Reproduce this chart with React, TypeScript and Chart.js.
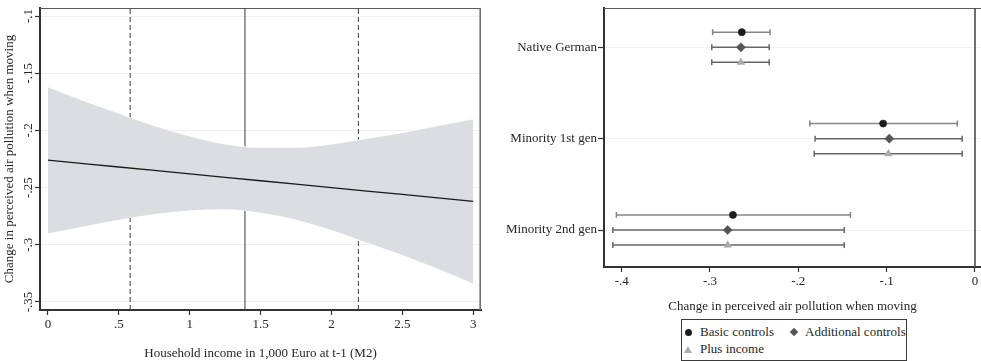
import React, { useEffect, useRef } from "react";
import { Chart, registerables } from "chart.js";

Chart.register(...registerables);

const FONT_FAMILY = "'Liberation Serif', 'Times New Roman', serif";
const FONT_SIZE = 13;
const TEXT_COLOR = "#262626";

// ---------- Left panel data ----------
const incomeX = [0, 0.25, 0.5, 0.75, 1, 1.25, 1.5, 1.75, 2, 2.25, 2.5, 2.75, 3];
const predicted = [-0.226, -0.229, -0.232, -0.235, -0.238, -0.241, -0.244, -0.247, -0.25, -0.253, -0.256, -0.259, -0.262];
const ciUpper = [-0.162, -0.174, -0.185, -0.196, -0.205, -0.212, -0.215, -0.215, -0.212, -0.207, -0.202, -0.196, -0.19];
const ciLower = [-0.29, -0.284, -0.278, -0.273, -0.27, -0.269, -0.272, -0.278, -0.287, -0.298, -0.309, -0.321, -0.334];
const incomeRefLines = [0.58, 1.39, 2.19];
const incomeRefDashed = [true, false, true];
const leftXTicks = [0, 0.5, 1, 1.5, 2, 2.5, 3];
const leftXTickLabels = ["0", ".5", "1", "1.5", "2", "2.5", "3"];
const leftYTicks = [-0.1, -0.15, -0.2, -0.25, -0.3, -0.35];
const leftYTickLabels = ["-.1", "-.15", "-.2", "-.25", "-.3", "-.35"];
const leftXTitle = "Household income in 1,000 Euro at t-1 (M2)";
const leftYTitle = "Change in perceived air pollution when moving";
const LEFT_X_MIN = -0.056;
const LEFT_X_MAX = 3.055;
const LEFT_Y_MIN = -0.357;
const LEFT_Y_MAX = -0.093;

// ---------- Right panel data ----------
const groups = ["Native German", "Minority 1st gen", "Minority 2nd gen"];
const modelNames = ["Basic controls", "Additional controls", "Plus income"];
const basicEst = [-0.264, -0.104, -0.274];
const basicLo = [-0.297, -0.187, -0.406];
const basicHi = [-0.232, -0.02, -0.141];
const addEst = [-0.265, -0.097, -0.28];
const addLo = [-0.298, -0.181, -0.41];
const addHi = [-0.233, -0.0145, -0.148];
const incEst = [-0.265, -0.098, -0.28];
const incLo = [-0.298, -0.182, -0.41];
const incHi = [-0.233, -0.0145, -0.148];
const rightXTicks = [-0.4, -0.3, -0.2, -0.1, 0];
const rightXTickLabels = ["-.4", "-.3", "-.2", "-.1", "0"];
const rightXTitle = "Change in perceived air pollution when moving";
const zeroLineX = [0];
const RIGHT_X_MIN = -0.42;
const RIGHT_X_MAX = 0.0068;
const RIGHT_Y_MIN = 0.57;
const RIGHT_Y_MAX = 3.405;

// styles
const modelOffsets = [-0.165, 0, 0.165];
const modelColors = ["#1c1c1c", "#555555", "#ababab"];
const barColors = ["#858585", "#666666", "#666666"];
const modelStyles = ["circle", "rectRot", "triangle"];
const modelRadius = [3.6, 4.6, 4.4];

const font = { family: FONT_FAMILY, size: FONT_SIZE };

function framePlugin(drawRight: boolean) {
  return {
    id: "frame" + (drawRight ? "R" : "N"),
    beforeDatasetsDraw(chart: any) {
      const { ctx, chartArea } = chart;
      const { left, right, top } = chartArea;
      ctx.save();
      ctx.strokeStyle = "#5a5a5a";
      ctx.lineWidth = 1.2;
      ctx.beginPath();
      ctx.moveTo(left, top + 0.5);
      ctx.lineTo(right, top + 0.5);
      ctx.stroke();
      if (drawRight) {
        ctx.strokeStyle = "#707070";
        ctx.lineWidth = 1.6;
        ctx.beginPath();
        ctx.moveTo(right - 0.8, top);
        ctx.lineTo(right - 0.8, chartArea.bottom);
        ctx.stroke();
      }
      ctx.restore();
    },
  };
}

function LeftPanel() {
  const ref = useRef<HTMLCanvasElement>(null);
  useEffect(() => {
    const refDatasets = incomeRefLines.map((m, i) => ({
      type: "line" as const,
      data: [
        { x: m, y: LEFT_Y_MIN },
        { x: m, y: LEFT_Y_MAX },
      ],
      borderColor: "#3a3a3a",
      borderWidth: 1,
      borderDash: incomeRefDashed[i] ? [5, 3] : [],
      pointRadius: 0,
      fill: false,
      order: 10,
    }));
    const chart = new Chart(ref.current!, {
      type: "line",
      data: {
        datasets: [
          {
            data: incomeX.map((x, i) => ({ x, y: ciUpper[i] })),
            fill: "+1",
            backgroundColor: "#dcdde0",
            borderColor: "rgba(255,255,255,0.7)",
            borderWidth: 1,
            pointRadius: 0,
            cubicInterpolationMode: "monotone",
            order: 5,
          },
          {
            data: incomeX.map((x, i) => ({ x, y: ciLower[i] })),
            fill: false,
            borderColor: "rgba(255,255,255,0.7)",
            borderWidth: 1,
            pointRadius: 0,
            cubicInterpolationMode: "monotone",
            order: 5,
          },
          {
            data: incomeX.map((x, i) => ({ x, y: predicted[i] })),
            fill: false,
            borderColor: "#1a1a1a",
            borderWidth: 1.3,
            pointRadius: 0,
            order: 1,
          },
          ...refDatasets,
        ] as any,
      },
      options: {
        responsive: false,
        animation: false,
        events: [],
        layout: { autoPadding: false, padding: { top: 8, right: 9, bottom: 0, left: 0 } },
        plugins: { legend: { display: false }, tooltip: { enabled: false } },
        scales: {
          x: {
            type: "linear",
            min: LEFT_X_MIN,
            max: LEFT_X_MAX,
            afterBuildTicks: (s: any) => {
              s.ticks = leftXTicks.map((v) => ({ value: v }));
            },
            afterFit: (s: any) => {
              s.height = 51;
              s.paddingLeft = 0;
              s.paddingRight = 0;
            },
            ticks: {
              autoSkip: false,
              maxRotation: 0,
              padding: 2,
              font,
              color: TEXT_COLOR,
              callback: (_v: any, i: number) => leftXTickLabels[i],
            },
            grid: { drawOnChartArea: false, tickLength: 5, tickColor: "#333", tickWidth: 1.2 },
            border: { color: "#333", width: 2 },
            title: { display: true, text: leftXTitle, font, color: TEXT_COLOR, padding: { top: 0, bottom: 0 } },
          },
          y: {
            type: "linear",
            min: LEFT_Y_MIN,
            max: LEFT_Y_MAX,
            afterBuildTicks: (s: any) => {
              s.ticks = leftYTicks.map((v) => ({ value: v }));
            },
            afterFit: (s: any) => {
              s.width = 40;
              s.paddingTop = 0;
              s.paddingBottom = 0;
            },
            ticks: {
              autoSkip: false,
              minRotation: 90,
              maxRotation: 90,
              crossAlign: "center",
              padding: -4,
              font,
              color: TEXT_COLOR,
              callback: (_v: any, i: number) => leftYTickLabels[i],
            },
            grid: { color: "#efefef", lineWidth: 1, tickLength: 5, tickColor: "#333", tickWidth: 1.2 },
            border: { color: "#333", width: 2 },
            title: { display: true, text: leftYTitle, font, color: TEXT_COLOR, padding: { top: 2, bottom: 0 } },
          },
        },
      } as any,
      plugins: [framePlugin(true)],
    });
    return () => chart.destroy();
  }, []);
  return (
    <canvas
      ref={ref}
      width={490}
      height={361}
      style={{ position: "absolute", left: 0, top: 0, width: 490, height: 361 }}
    />
  );
}

function RightPanel() {
  const ref = useRef<HTMLCanvasElement>(null);
  useEffect(() => {
    const est = [basicEst, addEst, incEst];
    const lo = [basicLo, addLo, incLo];
    const hi = [basicHi, addHi, incHi];
    const barSets: any[] = [];
    for (let m = 0; m < 3; m++) {
      for (let g = 0; g < groups.length; g++) {
        const yv = g + 1 + modelOffsets[m];
        barSets.push({
          data: [
            { x: lo[m][g], y: yv },
            { x: hi[m][g], y: yv },
          ],
          showLine: true,
          borderColor: barColors[m],
          borderWidth: 1.5,
          pointStyle: "line",
          rotation: 90,
          pointRadius: 3,
          pointBorderColor: barColors[m],
          pointBorderWidth: 1.5,
          order: 2,
        });
      }
    }
    const pointSets = est.map((e, m) => ({
      label: modelNames[m],
      data: e.map((x, g) => ({ x, y: g + 1 + modelOffsets[m] })),
      pointStyle: modelStyles[m],
      pointRadius: modelRadius[m],
      backgroundColor: modelColors[m],
      borderColor: modelColors[m],
      borderWidth: 0.5,
      showLine: false,
      order: 1,
    }));
    const zeroSets = zeroLineX.map((z) => ({
      data: [
        { x: z, y: RIGHT_Y_MIN },
        { x: z, y: RIGHT_Y_MAX },
      ],
      showLine: true,
      borderColor: "#4d4d4d",
      borderWidth: 1.6,
      pointRadius: 0,
      order: 3,
    }));
    const chart = new Chart(ref.current!, {
      type: "scatter",
      data: { datasets: [...zeroSets, ...barSets, ...pointSets] as any },
      options: {
        responsive: false,
        animation: false,
        events: [],
        layout: { autoPadding: false, padding: { top: 8, right: 0, bottom: 47, left: 0 } },
        plugins: { legend: { display: false }, tooltip: { enabled: false } },
        scales: {
          x: {
            type: "linear",
            min: RIGHT_X_MIN,
            max: RIGHT_X_MAX,
            afterBuildTicks: (s: any) => {
              s.ticks = rightXTicks.map((v) => ({ value: v }));
            },
            afterFit: (s: any) => {
              s.height = 47;
              s.paddingLeft = 0;
              s.paddingRight = 0;
            },
            ticks: {
              autoSkip: false,
              maxRotation: 0,
              padding: 2,
              font,
              color: TEXT_COLOR,
              callback: (_v: any, i: number) => rightXTickLabels[i],
            },
            grid: { drawOnChartArea: false, tickLength: 5, tickColor: "#333", tickWidth: 1.2 },
            border: { color: "#333", width: 2 },
            title: { display: true, text: rightXTitle, font, color: TEXT_COLOR, padding: { top: 0, bottom: 0 } },
          },
          y: {
            type: "linear",
            reverse: true,
            min: RIGHT_Y_MIN,
            max: RIGHT_Y_MAX,
            afterBuildTicks: (s: any) => {
              s.ticks = groups.map((_g, i) => ({ value: i + 1 }));
            },
            afterFit: (s: any) => {
              s.width = 114;
              s.paddingTop = 0;
              s.paddingBottom = 0;
            },
            ticks: {
              autoSkip: false,
              padding: 1,
              font,
              color: TEXT_COLOR,
              callback: (_v: any, i: number) => groups[i],
            },
            grid: { color: "#f1f1f1", lineWidth: 1, tickLength: 6, tickColor: "#333", tickWidth: 1.2 },
            border: { color: "#333", width: 2 },
          },
        },
      } as any,
      plugins: [framePlugin(false)],
    });
    return () => chart.destroy();
  }, []);
  return (
    <canvas
      ref={ref}
      width={491}
      height={361}
      style={{ position: "absolute", left: 490, top: 0, width: 491, height: 361 }}
    />
  );
}

function Legend() {
  const textStyle: React.CSSProperties = {
    position: "absolute",
    fontFamily: FONT_FAMILY,
    fontSize: FONT_SIZE,
    lineHeight: "16px",
    color: TEXT_COLOR,
    whiteSpace: "nowrap",
  };
  return (
    <div
      style={{
        position: "absolute",
        left: 681,
        top: 319,
        width: 226,
        height: 42,
        boxSizing: "border-box",
        border: "1.3px solid #3a3a3a",
        background: "#fff",
        overflow: "visible",
      }}
    >
      <div
        style={{
          position: "absolute",
          left: 2.5,
          top: 8.5,
          width: 7,
          height: 7,
          borderRadius: "50%",
          background: modelColors[0],
        }}
      />
      <span style={{ ...textStyle, left: 18, top: 4 }}>{modelNames[0]}</span>
      <div
        style={{
          position: "absolute",
          left: 109,
          top: 9,
          width: 6,
          height: 6,
          transform: "rotate(45deg)",
          background: modelColors[1],
        }}
      />
      <span style={{ ...textStyle, left: 123, top: 4 }}>{modelNames[1]}</span>
      <div
        style={{
          position: "absolute",
          left: 2,
          top: 26,
          width: 0,
          height: 0,
          borderLeft: "4px solid transparent",
          borderRight: "4px solid transparent",
          borderBottom: "7px solid " + modelColors[2],
        }}
      />
      <span style={{ ...textStyle, left: 18, top: 21 }}>{modelNames[2]}</span>
    </div>
  );
}

export default function App() {
  return (
    <div
      style={{
        position: "absolute",
        left: 0,
        top: 0,
        width: 981,
        height: 361,
        background: "#fff",
        overflow: "hidden",
      }}
    >
      <LeftPanel />
      <RightPanel />
      <Legend />
    </div>
  );
}
